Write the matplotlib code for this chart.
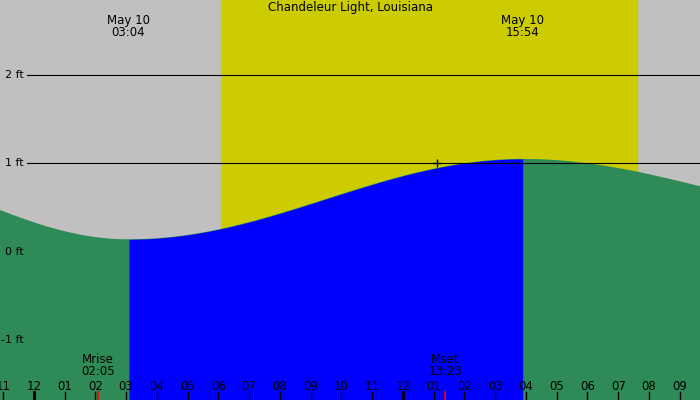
import numpy as np
import matplotlib
matplotlib.use("Agg")
import matplotlib.pyplot as plt

title = "Chandeleur Light, Louisiana"
# tide extremes (hour of day on May 10, height ft)
ext_t = [-6.7, 3.07, 15.9, 27.9]
ext_h = [1.0, 0.14, 1.05, 0.39]
ext_labels = [(3.07, "May 10\n03:04"), (15.9, "May 10\n15:54")]
sunrise, sunset = 6.08, 19.6
moon = [(2.08, "Mrise\n02:05"), (13.38, "Mset\n13:23")]
hour_ticks = list(range(-1, 22))
yticks = [2, 1, 0, -1]
xmin, xmax = -1.1, 21.66
ymin, ymax = -1.68, 2.85

def tide(t):
    out = np.empty_like(t)
    for i in range(len(ext_t) - 1):
        t0, t1 = ext_t[i], ext_t[i + 1]
        m = (t >= t0) & (t <= t1)
        f = (t[m] - t0) / (t1 - t0)
        out[m] = ext_h[i] + (ext_h[i + 1] - ext_h[i]) * (1 - np.cos(np.pi * f)) / 2
    return out

fig = plt.figure(figsize=(7, 4), dpi=100)
ax = fig.add_axes([0, 0, 1, 1])
ax.set_xlim(xmin, xmax); ax.set_ylim(ymin, ymax)
ax.axis("off")
fig.patch.set_facecolor("#c0c0c0")
ax.axvspan(sunrise, sunset, color="#cccc00", zorder=0)
t = np.linspace(xmin, xmax, 1000)
h = tide(t)
ax.fill_between(t, ymin, h, color="#2e8b57", zorder=1, lw=0)
m = (t >= ext_t[1]) & (t <= ext_t[2])
ax.fill_between(t[m], ymin, h[m], color="#0000ff", zorder=2, lw=0)
for y in [2, 1]:
    ax.axhline(y, xmin=27 / 700, color="black", lw=0.8, zorder=3)
for y in yticks:
    ax.text(0.034, y, f"{y} ft", transform=ax.get_yaxis_transform(), ha="right", va="center", fontsize=8, zorder=4)
ax.text(0.5, 2.76, title, ha="center", va="center", transform=ax.get_yaxis_transform(), fontsize=8.5)
for x, s in ext_labels:
    ax.text(x, 2.55, s, ha="center", va="center", fontsize=8.5, linespacing=0.95)
for x, s in moon:
    ax.text(x, -1.29, s, ha="center", va="center", fontsize=8.5, linespacing=0.95)
    ax.plot([x, x], [ymin, ymin + 0.09], color="red", lw=1.2, zorder=5)
ax.plot([13.1], [1.0], marker="+", color="black", ms=6, zorder=5)
for hr in hour_ticks:
    lab = f"{(hr - 1) % 12 + 1:02d}"
    ax.text(hr, -1.53, lab, ha="center", va="center", fontsize=8.5)
    ax.plot([hr, hr], [ymin, ymin + 0.09], color="black", lw=2 if hr in (0, 12) else 1, zorder=5)
fig.savefig("out.png", dpi=100)
